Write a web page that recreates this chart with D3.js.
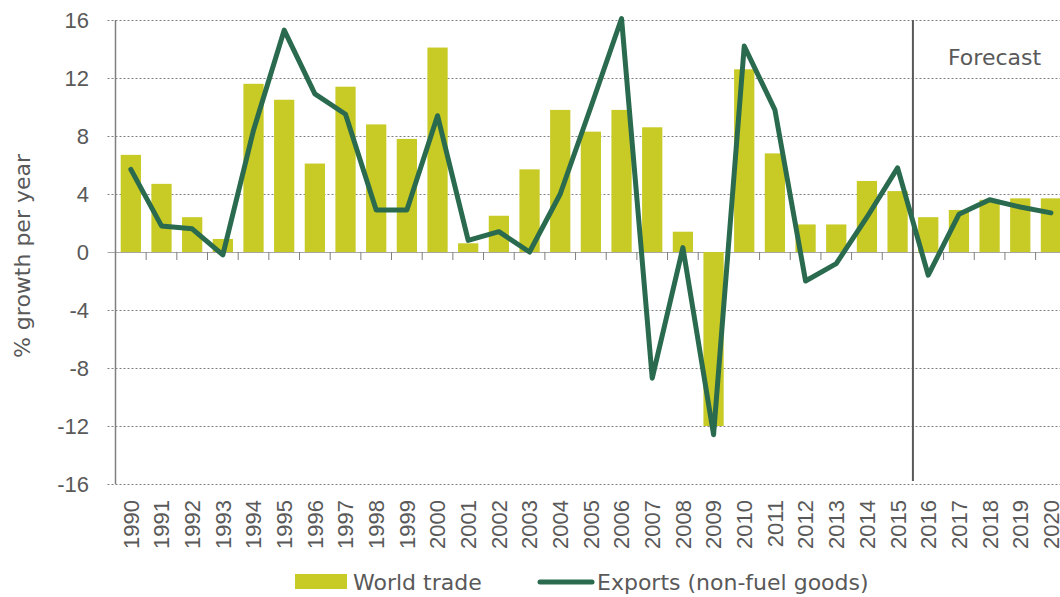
<!DOCTYPE html>
<html>
<head>
<meta charset="utf-8">
<script src="https://cdn.jsdelivr.net/npm/d3@7"></script>
<style>
  body { margin: 0; background: #fff; }
  svg text { fill: #595959; }
</style>
</head>
<body>
<div id="chart"></div>
<script>
// chart data
const years = d3.range(1990, 2021).map(String);
const worldTrade = [6.7, 4.7, 2.4, 0.9, 11.6, 10.5, 6.1, 11.4, 8.8, 7.8,
  14.1, 0.6, 2.5, 5.7, 9.8, 8.3, 9.8, 8.6, 1.4, -12.0,
  12.6, 6.8, 1.9, 1.9, 4.9, 4.2, 2.4, 2.9, 3.6, 3.7, 3.7];
const exportsNonFuel = [5.7, 1.8, 1.6, -0.2, 8.4, 15.3, 10.9, 9.5, 2.9, 2.9,
  9.4, 0.8, 1.4, 0.0, 4.0, 10.0, 16.1, -8.7, 0.3, -12.6,
  14.2, 9.8, -2.0, -0.8, 2.4, 5.8, -1.6, 2.6, 3.6, 3.1, 2.7];
const yTicks = [-16, -12, -8, -4, 0, 4, 8, 12, 16];
const forecastFrom = '2016';

const width = 1060;
const height = 597;
const left = 115.5;
const step = 30.67;

const svg = d3.select('#chart')
  .append('svg')
  .attr('width', width)
  .attr('height', height);

const x = d3.scaleBand()
  .domain(years)
  .range([left, left + step * years.length])
  .paddingInner(0.34)
  .paddingOuter(0.17);

const y = d3.scaleLinear()
  .domain([-16, 16])
  .range([484, 20]);

// grid lines + y labels
svg.append('g')
  .selectAll('line')
  .data(yTicks)
  .enter()
  .append('line')
  .attr('x1', left - 8)
  .attr('x2', width)
  .attr('y1', (d) => y(d) + 0.5)
  .attr('y2', (d) => y(d) + 0.5)
  .attr('stroke-width', 1)
  .attr('stroke-dasharray', (d) => d === 0 ? null : '2,2')
  .attr('stroke', (d) => d === 0 ? '#a6a6a6' : '#808080');

svg.append('g')
  .selectAll('text')
  .data(yTicks)
  .enter()
  .append('text')
  .attr('x', 89)
  .attr('y', (d) => y(d))
  .attr('dy', '0.36em')
  .attr('text-anchor', 'end')
  .style('font-family', 'Liberation Sans, Arial, sans-serif')
  .style('font-size', '22px')
  .text((d) => d);

// bars
svg.append('g')
  .selectAll('rect')
  .data(years)
  .enter()
  .append('rect')
  .attr('x', (d) => x(d))
  .attr('width', x.bandwidth())
  .attr('y', (d, i) => y(Math.max(0, worldTrade[i])))
  .attr('height', (d, i) => Math.abs(y(worldTrade[i]) - y(0)))
  .attr('fill', '#c8ca25');

// y axis line
svg.append('line')
  .attr('x1', left).attr('x2', left)
  .attr('y1', 20).attr('y2', 484)
  .attr('stroke', '#7f7f7f')
  .attr('stroke-width', 1.5);

// x tick marks at band boundaries, below zero line
svg.append('g')
  .selectAll('line')
  .data(d3.range(years.length + 1))
  .enter()
  .append('line')
  .attr('x1', (d) => left + d * x.step())
  .attr('x2', (d) => left + d * x.step())
  .attr('y1', y(0))
  .attr('y2', y(0) + 8)
  .attr('stroke', '#7f7f7f')
  .attr('stroke-width', 1);

// forecast divider
const divX = x(forecastFrom) - x.step() * x.paddingInner() / 2;
svg.append('line')
  .attr('x1', divX).attr('x2', divX)
  .attr('y1', 20).attr('y2', 481)
  .attr('stroke', '#595959')
  .attr('stroke-width', 2);

svg.append('text')
  .attr('x', 948)
  .attr('y', 65)
  .style('font-family', 'DejaVu Sans, sans-serif')
  .style('font-size', '22px')
  .text('Forecast');

// exports line
const line = d3.line()
  .x((d, i) => x(years[i]) + x.bandwidth() / 2)
  .y((d) => y(d));

svg.append('path')
  .datum(exportsNonFuel)
  .attr('d', line)
  .attr('fill', 'none')
  .attr('stroke', '#2a6a4e')
  .attr('stroke-width', 5)
  .attr('stroke-linejoin', 'round')
  .attr('stroke-linecap', 'round');

// x labels
svg.append('g')
  .selectAll('text')
  .data(years)
  .enter()
  .append('text')
  .attr('transform', (d) => `translate(${x(d) + x.bandwidth() / 2},500) rotate(-90)`)
  .attr('dy', '0.36em')
  .attr('text-anchor', 'end')
  .style('font-family', 'Liberation Sans, Arial, sans-serif')
  .style('font-size', '22px')
  .text((d) => d);

// y axis title
svg.append('text')
  .attr('transform', 'translate(22,256) rotate(-90)')
  .attr('dy', '0.36em')
  .attr('text-anchor', 'middle')
  .style('font-family', 'DejaVu Sans, sans-serif')
  .style('font-size', '22px')
  .text('% growth per year');

// legend
const legend = svg.append('g');
legend.append('rect')
  .attr('x', 295).attr('y', 574)
  .attr('width', 52).attr('height', 15)
  .attr('fill', '#c8ca25');
legend.append('text')
  .attr('x', 353).attr('y', 582)
  .attr('dy', '0.36em')
  .style('font-family', 'DejaVu Sans, sans-serif')
  .style('font-size', '22px')
  .text('World trade');
legend.append('line')
  .attr('x1', 540).attr('x2', 592)
  .attr('y1', 582).attr('y2', 582)
  .attr('stroke', '#2a6a4e')
  .attr('stroke-width', 5)
  .attr('stroke-linecap', 'round');
legend.append('text')
  .attr('x', 597).attr('y', 582)
  .attr('dy', '0.36em')
  .style('font-family', 'DejaVu Sans, sans-serif')
  .style('font-size', '22px')
  .text('Exports (non-fuel goods)');
</script>
</body>
</html>
